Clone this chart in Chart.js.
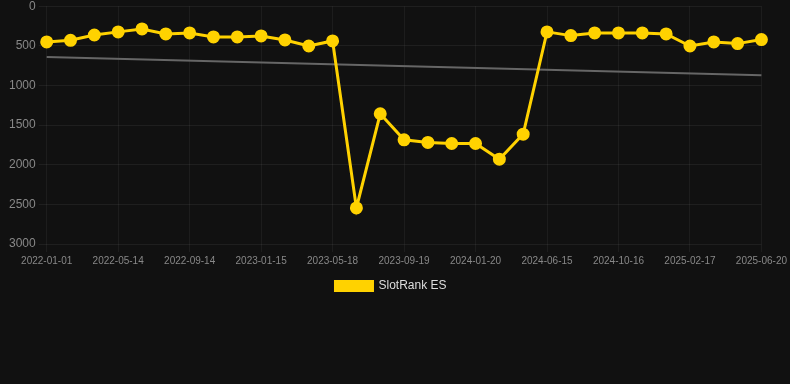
<!DOCTYPE html>
<html>
<head>
<meta charset="utf-8">
<script src="https://cdn.jsdelivr.net/npm/chart.js@4"></script>
<style>
  html, body { margin: 0; padding: 0; background: #111111; overflow: hidden; }
  #wrap { width: 790px; height: 306px; margin-top: -4px; position: relative; }
</style>
</head>
<body>
<div id="wrap"><canvas id="myChart"></canvas></div>
<script>
const categories = [
  '2022-01-01', '2022-02-14', '2022-03-30', '2022-05-14', '2022-06-27', '2022-08-01',
  '2022-09-14', '2022-10-28', '2022-12-01', '2023-01-15', '2023-02-28', '2023-04-03',
  '2023-05-18', '2023-07-01', '2023-08-05', '2023-09-19', '2023-11-02', '2023-12-06',
  '2024-01-20', '2024-03-04', '2024-04-17', '2024-06-15', '2024-07-29', '2024-09-01',
  '2024-10-16', '2024-11-29', '2025-01-02', '2025-02-17', '2025-04-02', '2025-05-06',
  '2025-06-20'
];
const rankES = [
  451, 430, 363, 324, 287, 350, 337, 388, 388, 375, 426, 502,
  438, 2545, 1357, 1686, 1719, 1732, 1732, 1930, 1614, 324,
  371, 337, 337, 337, 350, 502, 451, 472, 421
];
// trend: only ends given, line spans the gap
const trend = categories.map(() => null);
trend[0] = 641;
trend[categories.length - 1] = 872;
const yTicks = [0, 500, 1000, 1500, 2000, 2500, 3000];

Chart.defaults.font.family = '"Liberation Sans", Arial, sans-serif';

const ctx = document.getElementById('myChart');
new Chart(ctx, {
  type: 'line',
  data: {
    labels: categories,
    datasets: [{
      label: 'SlotRank ES',
      data: rankES,
      borderColor: '#ffd200',
      backgroundColor: '#ffd200',
      borderWidth: 3,
      pointRadius: 5,
      pointHoverRadius: 6,
      tension: 0
    }, {
      label: 'trend',
      data: trend,
      spanGaps: true,
      borderColor: '#666666',
      borderWidth: 2,
      pointRadius: 0,
      tension: 0
    }]
  },
  options: {
    responsive: true,
    maintainAspectRatio: false,
    animation: false,
    layout: { padding: { left: 6, right: 14 } },
    plugins: {
      legend: {
        position: 'bottom',
        labels: {
          color: '#dddddd',
          font: { size: 12 },
          boxWidth: 37,
          boxHeight: 9,
          filter: (item) => item.text !== 'trend'
        }
      },
      tooltip: { enabled: false }
    },
    scales: {
      x: {
        grid: { color: 'rgba(255,255,255,0.05)' },
        border: { display: false },
        ticks: {
          color: '#888888',
          font: { size: 10 },
          maxRotation: 0,
          autoSkip: false,
          callback: function(val, i) { return i % 3 === 0 ? categories[i] : null; }
        }
      },
      y: {
        reverse: true,
        min: 0,
        max: 3000,
        grid: { color: 'rgba(255,255,255,0.06)' },
        border: { display: false },
        afterBuildTicks: (axis) => { axis.ticks = yTicks.map(v => ({ value: v })); },
        ticks: { color: '#888888', font: { size: 12 }, callback: (v) => String(v) }
      }
    }
  }
});
</script>
</body>
</html>
